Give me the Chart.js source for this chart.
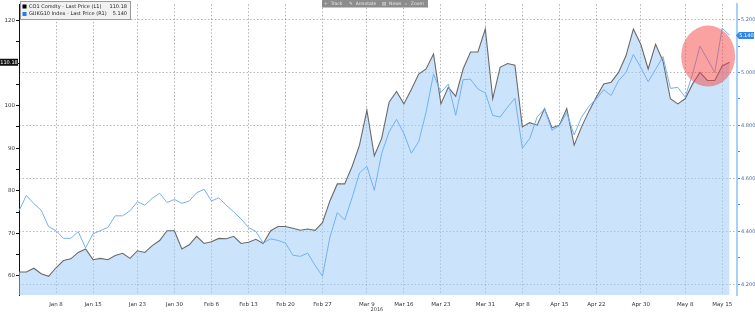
<!DOCTYPE html>
<html>
<head>
<meta charset="utf-8">
<script src="https://cdn.jsdelivr.net/npm/chart.js@4.4.1/dist/chart.umd.min.js"></script>
<style>
  html, body { margin: 0; padding: 0; background: #fff; }
  #wrap { position: relative; width: 755px; height: 313px; }
</style>
</head>
<body>
<div id="wrap"><canvas id="grafica"></canvas></div>
<script>
// trading-day axis, only some days carry a date label
const tickDates = ['Jan 8', 'Jan 15', 'Jan 23', 'Jan 30', 'Feb 6', 'Feb 13', 'Feb 20', 'Feb 27', 'Mar 9',
  'Mar 16', 'Mar 23', 'Mar 31', 'Apr 8', 'Apr 15', 'Apr 22', 'Apr 30', 'May 8', 'May 15'];
const tickDays = [5, 10, 16, 21, 26, 31, 36, 41, 47, 52, 57, 63, 68, 73, 78, 84, 90, 95];
const yearLabel = '2016';

// CO1 Comdty - Last Price (left axis)
const co1Prices = [
  60.9, 60.9, 61.8, 60.5, 59.9, 61.9, 63.6, 64.0, 65.5, 66.3,
  63.8, 64.1, 63.8, 64.8, 65.3, 64.1, 65.9, 65.5, 67.1, 68.3,
  70.6, 70.6, 66.3, 67.3, 69.3, 67.6, 68.0, 68.8, 68.7, 69.3,
  67.6, 67.9, 68.6, 67.6, 70.6, 71.6, 71.6, 71.2, 70.7, 71.0,
  70.7, 72.5, 77.6, 81.6, 81.6, 85.7, 90.7, 98.9, 88.2, 92.3,
  100.8, 103.3, 100.4, 103.8, 107.4, 108.6, 112.1, 100.4, 104.3, 102.2,
  108.6, 112.6, 112.6, 118.0, 101.6, 109.0, 109.9, 109.5, 95.0, 96.0,
  95.4, 99.3, 94.8, 95.4, 99.3, 90.7, 95.0, 98.7, 102.0, 105.1,
  105.5, 107.8, 111.7, 118.0, 114.4, 108.6, 114.4, 110.5, 101.6, 100.4,
  101.6, 105.1, 107.8, 105.9, 105.9, 109.3, 110.18
];

// GUKG10 Index - Last Price (right axis)
const gukgYields = [
  4.478, 4.536, 4.505, 4.480, 4.418, 4.403, 4.374, 4.374, 4.399, 4.338,
  4.391, 4.403, 4.415, 4.459, 4.459, 4.478, 4.512, 4.499, 4.525, 4.544,
  4.509, 4.521, 4.506, 4.515, 4.546, 4.559, 4.515, 4.527, 4.499, 4.474,
  4.447, 4.415, 4.400, 4.356, 4.372, 4.366, 4.356, 4.310, 4.306, 4.318,
  4.272, 4.231, 4.378, 4.471, 4.443, 4.527, 4.621, 4.646, 4.555, 4.695,
  4.776, 4.823, 4.770, 4.695, 4.739, 4.851, 4.994, 4.925, 4.956, 4.838,
  4.973, 4.975, 4.938, 4.923, 4.838, 4.832, 4.869, 4.903, 4.714, 4.751,
  4.832, 4.863, 4.782, 4.799, 4.848, 4.764, 4.832, 4.873, 4.900, 4.935,
  4.913, 4.969, 5.000, 5.068, 5.019, 4.965, 5.012, 5.060, 4.940, 4.944,
  4.907, 4.994, 5.100, 5.050, 5.000, 5.168, 5.140
];

const leftTickValues = [60, 70, 80, 90, 100, 110, 120];
const rightTickValues = [4.2, 4.4, 4.6, 4.8, 5.0, 5.2];

const legendNames = ['CO1 Comdty - Last Price (L1)', 'GUKG10 Index - Last Price (R1)'];

// one slot per trading day plus an empty slot before the right axis
const categories = new Array(co1Prices.length + 1).fill('');
tickDays.forEach((d, i) => { categories[d] = tickDates[i]; });

const FONT = 'DejaVu Sans';
const lastCo1 = co1Prices[co1Prices.length - 1];
const lastGukg = gukgYields[gukgYields.length - 1];

// majors plus the half-step minor marks
function withMinors(majors, half, min, max) {
  const out = [];
  majors.forEach(v => {
    [v - half, v, v + half].forEach(t => {
      const r = Math.round(t * 1000) / 1000;
      if (r >= min && r <= max && !out.includes(r)) out.push(r);
    });
  });
  return out.sort((a, b) => a - b).map(v => ({ value: v }));
}
const isMajor = (list, v) => list.some(m => Math.abs(m - v) < 1e-6);

const decoraciones = {
  id: 'decoraciones',
  afterDatasetsDraw(chart) {
    const { ctx, scales } = chart;
    // red highlight circle around the last days
    const cx = scales.x.getPixelForValue(93.1);
    const cy = scales.yR.getPixelForValue(5.062);
    ctx.save();
    ctx.fillStyle = 'rgba(245,70,70,0.5)';
    ctx.beginPath();
    ctx.ellipse(cx, cy, 27, 30.5, 0, 0, Math.PI * 2);
    ctx.fill();
    ctx.restore();
  },
  afterDraw(chart) {
    const { ctx, scales, chartArea } = chart;
    ctx.save();

    // last value tags
    const yl = scales.yL.getPixelForValue(lastCo1);
    ctx.fillStyle = '#111';
    ctx.fillRect(0, yl - 3.5, 18, 7);
    ctx.fillStyle = '#fff';
    ctx.font = '5px "' + FONT + '"';
    ctx.textAlign = 'center';
    ctx.textBaseline = 'middle';
    ctx.fillText(lastCo1.toFixed(2), 9, yl);

    const yr = scales.yR.getPixelForValue(lastGukg);
    ctx.fillStyle = '#2f86ec';
    ctx.beginPath();
    ctx.moveTo(chartArea.right - 1, yr);
    ctx.lineTo(chartArea.right + 2, yr - 3.5);
    ctx.lineTo(chartArea.right + 17, yr - 3.5);
    ctx.lineTo(chartArea.right + 17, yr + 3.5);
    ctx.lineTo(chartArea.right + 2, yr + 3.5);
    ctx.closePath();
    ctx.fill();
    ctx.fillStyle = '#fff';
    ctx.fillText(lastGukg.toFixed(3), chartArea.right + 9.5, yr);

    // legend box
    ctx.fillStyle = '#f1f1f1';
    ctx.strokeStyle = '#9a9a9a';
    ctx.lineWidth = 1;
    ctx.fillRect(20.5, 1.5, 110, 18);
    ctx.strokeRect(20.5, 1.5, 110, 18);
    ctx.fillStyle = '#000';
    ctx.fillRect(22.5, 4.5, 4, 4);
    ctx.fillStyle = '#1e7fe8';
    ctx.fillRect(22.5, 12, 4, 4);
    ctx.fillStyle = '#222';
    ctx.font = '5px "' + FONT + '"';
    ctx.textAlign = 'left';
    ctx.fillText(legendNames[0], 29, 6.8);
    ctx.fillText(legendNames[1], 29, 14.2);
    ctx.textAlign = 'right';
    ctx.fillText(lastCo1.toFixed(2), 127, 6.8);
    ctx.fillText(lastGukg.toFixed(3), 127, 14.2);

    // toolbar strip
    ctx.fillStyle = '#8c8c8c';
    ctx.fillRect(322, 0, 106, 7.5);
    ctx.fillStyle = '#e8e8e8';
    ctx.textAlign = 'left';
    ctx.font = '4.5px "' + FONT + '"';
    ctx.fillText('+  Track', 324, 4);
    ctx.fillText('\u270E  Annotate', 349, 4);
    ctx.fillText('\u25A4  News', 382, 4);
    ctx.fillText('\u2315  Zoom', 405, 4);

    // year under the axis
    ctx.fillStyle = '#444';
    ctx.textAlign = 'center';
    ctx.font = '5px "' + FONT + '"';
    ctx.fillText(yearLabel, scales.x.getPixelForValue(tickDays[8]) + 10, 309.5);

    ctx.restore();
  }
};

new Chart(document.getElementById('grafica'), {
  type: 'line',
  data: {
    labels: categories,
    datasets: [
      {
        label: legendNames[0],
        data: co1Prices,
        yAxisID: 'yL',
        borderColor: '#6a6a6a',
        borderWidth: 1.1,
        backgroundColor: 'rgba(160,205,250,0.55)',
        fill: 'start',
        pointRadius: 0,
        tension: 0,
        order: 2
      },
      {
        label: legendNames[1],
        data: gukgYields,
        yAxisID: 'yR',
        borderColor: '#74b0f4',
        borderWidth: 1,
        fill: false,
        pointRadius: 0,
        tension: 0,
        order: 1
      }
    ]
  },
  options: {
    responsive: true,
    maintainAspectRatio: false,
    animation: false,
    layout: { padding: { top: 1, left: 0, right: 0, bottom: 0 } },
    plugins: {
      legend: { display: false },
      tooltip: { enabled: false }
    },
    scales: {
      x: {
        type: 'category',
        afterFit: (s) => { s.height = 18; },
        border: { display: false, dash: [1.5, 2] },
        grid: {
          drawTicks: false,
          color: (c) => (c.tick && categories[c.tick.value]) ? 'rgba(0,0,0,0.3)' : 'rgba(0,0,0,0)',
          lineWidth: 1
        },
        ticks: {
          autoSkip: false,
          maxRotation: 0,
          padding: 6,
          color: '#333',
          font: { family: FONT, size: 5.5 },
          callback: (v, i) => categories[i] || ''
        }
      },
      yL: {
        position: 'left',
        min: 55.5,
        max: 123.8,
        afterFit: (s) => { s.width = 19; },
        afterBuildTicks: (axis) => { axis.ticks = withMinors(leftTickValues, 5, 55.5, 123.8); },
        border: { color: '#111', width: 1 },
        grid: { drawOnChartArea: false, tickLength: 3, tickColor: '#111' },
        ticks: {
          padding: 1,
          color: '#333',
          font: { family: FONT, size: 5.5 },
          callback: (v) => isMajor(leftTickValues, v) ? String(Math.round(v)) : ''
        }
      },
      yR: {
        position: 'right',
        min: 4.16,
        max: 5.2575,
        afterFit: (s) => { s.width = 18; },
        afterBuildTicks: (axis) => { axis.ticks = withMinors(rightTickValues, 0.1, 4.16, 5.2575); },
        border: { color: '#a8d0f8', width: 2, dash: [1.5, 2] },
        grid: {
          drawOnChartArea: true,
          tickLength: 3,
          tickColor: '#3d8ef0',
          color: (c) => (c.tick && isMajor(rightTickValues, c.tick.value)) ? 'rgba(0,0,0,0.28)' : 'rgba(0,0,0,0)'
        },
        ticks: {
          padding: 1,
          color: '#4a6f99',
          font: { family: FONT, size: 5 },
          callback: (v) => isMajor(rightTickValues, v) ? v.toFixed(3) : ''
        }
      }
    }
  },
  plugins: [decoraciones]
});
</script>
</body>
</html>
